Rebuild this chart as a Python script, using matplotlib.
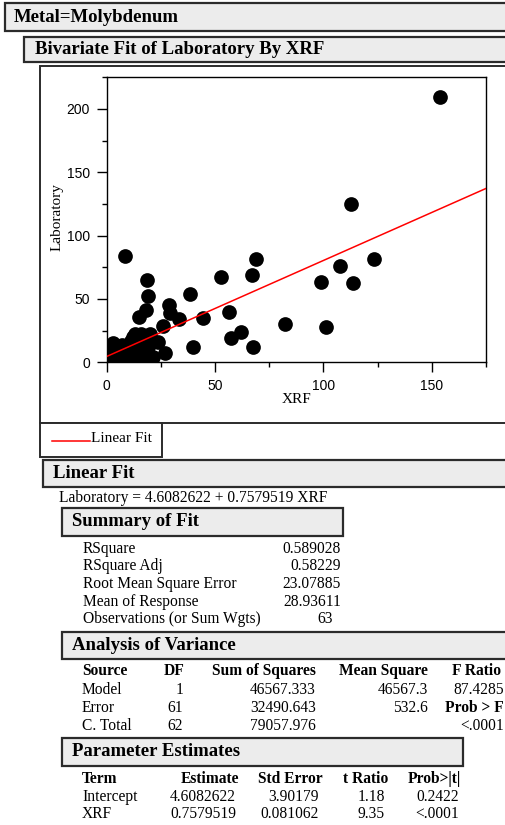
import numpy as np
import matplotlib
matplotlib.use("Agg")
import matplotlib.pyplot as plt
from matplotlib.patches import Rectangle
from matplotlib.ticker import MultipleLocator

# data (XRF, Laboratory)
xrf = [153.8, 112.8, 8.5, 69.1, 123.1, 66.9, 52.8, 18.5, 107.8, 98.9,
       113.5, 19.2, 38.5, 28.8, 56.5, 18.2, 15.1, 29.2, 33.5, 44.2,
       82.2, 101.2, 25.8, 61.8, 57.2, 39.7, 67.5, 23.8, 26.9, 21.5,
       1, 2, 3, 3, 4, 5, 5, 6, 7, 7,
       8, 9, 10, 10, 11, 12, 12, 13, 13, 14,
       14, 15, 15, 16, 16, 17, 17, 18, 19, 20,
       19, 21, 11]
lab = [209.2, 125.0, 84.0, 81.3, 81.3, 69.0, 67.6, 65.0, 76.3, 63.7,
       62.4, 52.4, 53.7, 45.3, 40.0, 41.3, 35.5, 38.7, 34.0, 35.3,
       30.0, 27.6, 29.0, 23.7, 19.0, 12.4, 12.4, 16.3, 7.6, 4.0,
       2, 12, 5, 15, 8, 1, 11, 3, 14, 6,
       1, 9, 4, 13, 17, 2, 20, 8, 22, 12,
       4, 19, 1, 22, 9, 15, 3, 20, 12, 22,
       6, 16, 0.5]
intercept = 4.6082622
slope = 0.7579519

xticks = [0, 50, 100, 150]
yticks = [0, 50, 100, 150, 200]

summary_labels = ["RSquare", "RSquare Adj", "Root Mean Square Error",
                  "Mean of Response", "Observations (or Sum Wgts)"]
summary_values = ["0.589028", "0.58229", "23.07885", "28.93611", "63"]

anova_cols = ["Source", "DF", "Sum of Squares", "Mean Square", "F Ratio"]
anova_source = ["Model", "Error", "C. Total"]
anova_df = ["1", "61", "62"]
anova_ss = ["46567.333", "32490.643", "79057.976"]
anova_ms = ["46567.3", "532.6", ""]
anova_f = ["87.4285", "Prob > F", "<.0001"]

param_cols = ["Term", "Estimate", "Std Error", "t Ratio", "Prob>|t|"]
param_term = ["Intercept", "XRF"]
param_est = ["4.6082622", "0.7579519"]
param_se = ["3.90179", "0.081062"]
param_t = ["1.18", "9.35"]
param_p = ["0.2422", "<.0001"]

W, H = 506, 825
SERIF = "Liberation Serif"
SANS = "Liberation Sans"
GRAY = "#ECECEC"
EDGE = "#2b2b2b"

fig = plt.figure(figsize=(W / 100, H / 100), dpi=100)
fig.patch.set_facecolor("white")

# overlay in pixel coordinates for the report boxes and tables
ov = fig.add_axes([0, 0, 1, 1])
ov.set_xlim(0, W)
ov.set_ylim(H, 0)
ov.axis("off")


def box(x0, y0, x1, y1, fill=GRAY, lw=1.6):
    ov.add_patch(Rectangle((x0, y0), x1 - x0, y1 - y0, facecolor=fill,
                           edgecolor=EDGE, lw=lw))


def head(x, y, s):
    ov.text(x, y, s, family=SERIF, weight="bold", fontsize=13.5,
            ha="left", va="center")


def txt(x, y, s, ha="left", bold=False):
    ov.text(x, y, s, family=SERIF, weight="bold" if bold else "normal",
            fontsize=11.2, ha=ha, va="center")


box(5, 3, 530, 31)
head(14, 17, "Metal=Molybdenum")
box(24, 37, 530, 62)
head(35, 49.5, "Bivariate Fit of Laboratory By XRF")

# frame round the plot and the legend
box(40, 66, 530, 423, fill="white", lw=1.4)
box(40, 423, 162, 457, fill="white", lw=1.4)
ov.plot([52, 90], [441, 441], color="red", lw=1.1)
ov.text(91, 438, "Linear Fit", family=SERIF, fontsize=11, ha="left", va="center")

box(43, 460, 530, 487)
head(53, 473.5, "Linear Fit")
txt(59, 498, "Laboratory = %.7f + %.7f XRF" % (intercept, slope))

box(62, 508, 343, 536)
head(72, 522, "Summary of Fit")
rows_y = [549, 566.5, 584, 601.5, 619]
for yy, lbl, val in zip(rows_y, summary_labels, summary_values):
    txt(83, yy, lbl)
    txt(333 if val == "63" else 341, yy, val, ha="right")

box(62, 632, 530, 659)
head(72, 645.5, "Analysis of Variance")
txt(82, 671, anova_cols[0], bold=True)
txt(184, 671, anova_cols[1], ha="right", bold=True)
txt(316, 671, anova_cols[2], ha="right", bold=True)
txt(428, 671, anova_cols[3], ha="right", bold=True)
txt(452, 671, anova_cols[4], bold=True)
for i, yy in enumerate([690, 708, 725.5]):
    txt(82, yy, anova_source[i])
    txt(183, yy, anova_df[i], ha="right")
    txt(316, yy, anova_ss[i], ha="right")
    txt(428, yy, anova_ms[i], ha="right")
    txt(504, yy, anova_f[i], ha="right", bold=(i == 1))

box(62, 738, 463, 766)
head(72, 752, "Parameter Estimates")
txt(82, 779, param_cols[0], bold=True)
txt(239, 779, param_cols[1], ha="right", bold=True)
txt(323, 779, param_cols[2], ha="right", bold=True)
txt(388, 779, param_cols[3], ha="right", bold=True)
txt(461, 779, param_cols[4], ha="right", bold=True)
for i, yy in enumerate([797, 814.5]):
    txt(82, yy, param_term[i])
    txt(236, yy, param_est[i], ha="right")
    txt(319, yy, param_se[i], ha="right")
    txt(385, yy, param_t[i], ha="right")
    txt(459, yy, param_p[i], ha="right")

# scatter plot
left, right, top, bottom = 106.7, 486, 77.3, 362.3
ax = fig.add_axes([left / W, 1 - bottom / H, (right - left) / W, (bottom - top) / H])
ax.scatter(xrf, lab, s=112, color="black", zorder=3, linewidths=0)
xs = np.array([0, 175])
ax.plot(xs, intercept + slope * xs, color="red", lw=1.1, zorder=4)
ax.set_xlim(0, 175)
ax.set_ylim(0, 225)
ax.set_xticks(xticks)
ax.set_yticks(yticks)
ax.xaxis.set_minor_locator(MultipleLocator(25))
ax.yaxis.set_minor_locator(MultipleLocator(25))
ax.tick_params(which="major", direction="out", length=7, width=1, labelsize=10, pad=5)
ax.tick_params(which="minor", direction="out", length=3.5, width=1)
for lbl in ax.get_xticklabels() + ax.get_yticklabels():
    lbl.set_family(SANS)
for sp in ax.spines.values():
    sp.set_linewidth(1)
ax.set_xlabel("XRF", family=SERIF, fontsize=11)
ax.set_ylabel("Laboratory", family=SERIF, fontsize=11)
ax.xaxis.set_label_coords(0.5, -0.108)
ax.yaxis.set_label_coords(-0.113, 0.51)

fig.savefig("out.png", dpi=100)
